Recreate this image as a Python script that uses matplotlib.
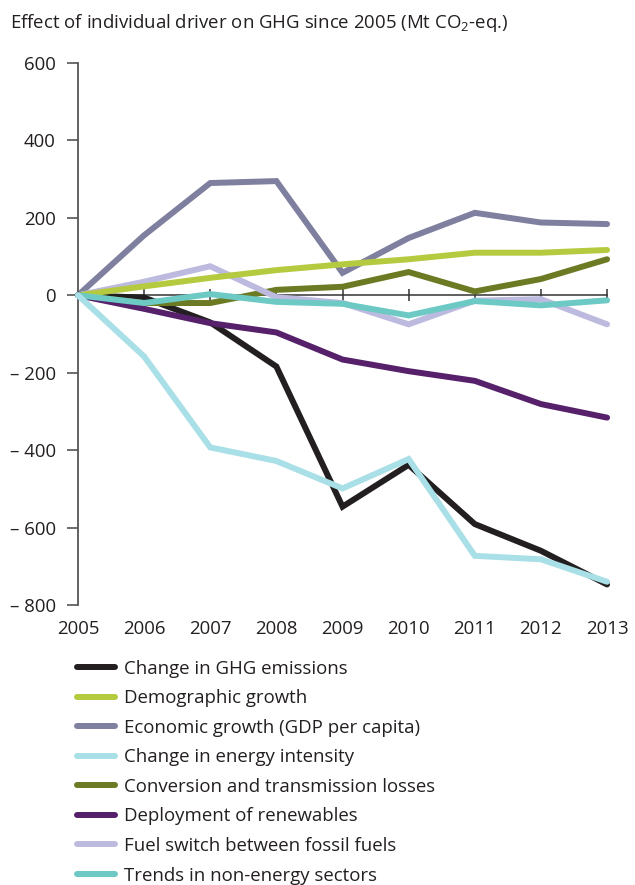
import matplotlib
matplotlib.use("Agg")
import matplotlib.pyplot as plt

plt.rcParams['font.family'] = ['Open Sans', 'DejaVu Sans']
plt.rcParams['mathtext.fontset'] = 'custom'
plt.rcParams['mathtext.rm'] = 'Open Sans'
plt.rcParams['mathtext.it'] = 'Open Sans'
plt.rcParams['font.size'] = 13.4
plt.rcParams['text.color'] = '#231f20'

years = [2005, 2006, 2007, 2008, 2009, 2010, 2011, 2012, 2013]

ghg_change = [0, -6, -70, -184, -546, -438, -591, -660, -747]
demographic = [0, 23, 45, 65, 80, 93, 110, 110, 117]
economic = [0, 155, 290, 295, 58, 148, 213, 188, 184]
energy_intensity = [0, -158, -393, -428, -499, -423, -673, -682, -740]
conversion = [0, -20, -20, 14, 22, 60, 10, 42, 93]
renewables = [0, -35, -72, -96, -166, -196, -221, -281, -316]
fuel_switch = [0, 35, 75, -5, -20, -75, -14, -10, -75]
non_energy = [0, -20, 3, -17, -22, -52, -15, -26, -13]

labels = ['Change in GHG emissions', 'Demographic growth',
          'Economic growth (GDP per capita)', 'Change in energy intensity',
          'Conversion and transmission losses', 'Deployment of renewables',
          'Fuel switch between fossil fuels', 'Trends in non-energy sectors']
series = [ghg_change, demographic, economic, energy_intensity,
          conversion, renewables, fuel_switch, non_energy]
colors = ['#231f20', '#b5ca3f', '#7f7f9f', '#a9dfe7',
          '#6b7a23', '#56206b', '#bdbadf', '#6cc9c4']
zorders = [3, 4, 2, 5, 3, 4, 3, 4]

yticks = [600, 400, 200, 0, -200, -400, -600, -800]
ytick_labels = ['600', '400', '200', '0', '\u2013 200', '\u2013 400', '\u2013 600', '\u2013 800']

fig = plt.figure(figsize=(6.35, 8.85), dpi=100)
ax = fig.add_axes([0.1228, 0.3164, 0.956 - 0.1228, 0.9288 - 0.3164])

handles = []
for vals, lab, c, z in zip(series, labels, colors, zorders):
    h, = ax.plot(years, vals, color=c, lw=4.3, label=lab, zorder=z,
                 solid_capstyle='round', solid_joinstyle='miter', clip_on=False)
    handles.append(h)

ax.set_xlim(2005, 2013)
ax.set_ylim(-800, 600)

for s in ['top', 'right']:
    ax.spines[s].set_visible(False)
ax.spines['left'].set_color('#555555')
ax.spines['left'].set_linewidth(1.3)
ax.spines['bottom'].set_position(('data', 0))
ax.spines['bottom'].set_color('#333333')
ax.spines['bottom'].set_linewidth(1.1)
ax.spines['bottom'].set_zorder(1)

ax.set_yticks(yticks)
ax.set_yticklabels(ytick_labels)
ax.tick_params(axis='y', length=8, width=1.2, color='#555555', pad=8,
               labelsize=13.4, labelcolor='#231f20')

ax.set_xticks(years[1:])
ax.tick_params(axis='x', direction='inout', length=9, width=1.1,
               color='#333333', labelbottom=False)

sec = ax.secondary_xaxis(0)
sec.set_xticks(years)
sec.tick_params(length=0, pad=11, labelsize=13.4, labelcolor='#231f20')
sec.spines['bottom'].set_visible(False)

fig.text(0.0157, 0.974, 'Effect of individual driver on GHG since 2005 (Mt CO$_2$-eq.)',
         fontsize=13.4, va='center', ha='left')

fig.legend(handles=handles, loc='upper left', bbox_to_anchor=(0.121, 0.2545),
           frameon=False, fontsize=13.4, handlelength=2.05, handletextpad=0.5,
           labelspacing=0.62, borderpad=0, borderaxespad=0)

fig.savefig('out.png', dpi=100)
